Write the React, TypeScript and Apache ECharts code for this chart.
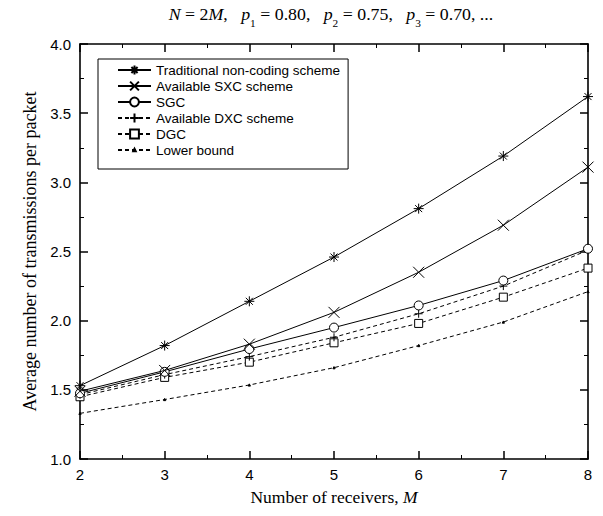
import React, { useEffect, useRef } from "react";
import * as echarts from "echarts";

const receivers = [2, 3, 4, 5, 6, 7, 8];
const traditional = [1.53, 1.82, 2.14, 2.46, 2.81, 3.19, 3.62];
const sxc = [1.49, 1.64, 1.83, 2.06, 2.35, 2.69, 3.11];
const sgc = [1.475, 1.63, 1.795, 1.95, 2.11, 2.29, 2.52];
const dxc = [1.465, 1.61, 1.74, 1.88, 2.05, 2.25, 2.51];
const dgc = [1.45, 1.59, 1.70, 1.84, 1.98, 2.17, 2.38];
const lowerBound = [1.33, 1.43, 1.535, 1.66, 1.82, 1.99, 2.21];

const seriesNames = [
  "Traditional non-coding scheme",
  "Available SXC scheme",
  "SGC",
  "Available DXC scheme",
  "DGC",
  "Lower bound",
];

const STAR = "path://M5,0L5,10M0,5L10,5M1.5,1.5L8.5,8.5M8.5,1.5L1.5,8.5";
const CROSS = "path://M0,0L10,10M10,0L0,10";
const PLUS = "path://M5,0L5,10M0,5L10,5";
const CIRCLE = "path://M0,5A5,5,0,1,1,10,5A5,5,0,1,1,0,5Z";
const SQUARE = "path://M0,0L10,0L10,10L0,10Z";
const TINY = "path://M0,0M10,10M3.6,6.4L5,3.6L6.4,6.4Z";

const SERIF = "'Liberation Serif', 'Times New Roman', serif";
const SANS = "'Liberation Sans', Arial, sans-serif";

function mk(name: string, values: number[], symbol: string, size: number, fill: string, dashed: boolean, z: number) {
  return {
    type: "line",
    name,
    data: receivers.map((x, i) => [x, values[i]]),
    symbol,
    symbolSize: size,
    showAllSymbol: true,
    z,
    lineStyle: { color: "#000", width: 1, type: dashed ? [4, 3] : "solid" },
    itemStyle: { color: fill, borderColor: "#000", borderWidth: 1 },
    emphasis: { disabled: true },
  };
}

export default function App() {
  const ref = useRef<HTMLDivElement>(null);
  useEffect(() => {
    if (!ref.current) return;
    const chart = echarts.init(ref.current, undefined, { renderer: "svg" });
    const tickCommon = {
      axisLine: { show: true, onZero: false, lineStyle: { color: "#000", width: 1.6 } },
      axisTick: { show: true, inside: true, length: 8, lineStyle: { color: "#000", width: 1.5 } },
      minorTick: { show: true, splitNumber: 2, length: 4, lineStyle: { color: "#000", width: 1 } },
      splitLine: { show: false },
      minorSplitLine: { show: false },
    };
    const xBase = { type: "value", min: 2, max: 8, interval: 1, ...tickCommon };
    const yBase = { type: "value", min: 1, max: 4, interval: 0.5, ...tickCommon };
    chart.setOption({
      animation: false,
      backgroundColor: "#fff",
      grid: { left: 80, right: 15, top: 44, bottom: 57, containLabel: false },
      graphic: [
        {
          type: "text",
          x: 331,
          y: 1,
          scaleX: 1.08,
          style: {
            text: "{i|N} = 2{i|M},   {i|p}{s|1} = 0.80,   {i|p}{s|2} = 0.75,   {i|p}{s|3} = 0.70, ...",
            align: "center",
            verticalAlign: "top",
            fontFamily: SERIF,
            fontSize: 16.5,
            lineHeight: 28,
            fill: "#000",
            rich: {
              i: { fontStyle: "italic", fontFamily: SERIF, fontSize: 16.5, lineHeight: 28 },
              s: { fontFamily: SERIF, fontSize: 10.5, lineHeight: 10.5, verticalAlign: "bottom" },
            },
          },
        },
      ],
      legend: {
        orient: "vertical",
        left: 98,
        top: 59,
        padding: [4, 8, 12, 19],
        itemGap: 2,
        itemWidth: 33,
        itemHeight: 11,
        borderColor: "#000",
        borderWidth: 1,
        backgroundColor: "#fff",
        textStyle: { fontSize: 13.5, fontFamily: SANS, color: "#000", lineHeight: 14 },
        data: seriesNames,
      },
      xAxis: [
        {
          ...xBase,
          position: "bottom",
          axisLabel: { color: "#000", fontSize: 15, fontFamily: SANS, margin: 8 },
          name: "Number of receivers, {i|M}",
          nameLocation: "middle",
          nameGap: 29,
          nameTextStyle: {
            color: "#000",
            fontFamily: SERIF,
            fontSize: 17.5,
            rich: { i: { fontStyle: "italic", fontFamily: SERIF, fontSize: 17.5 } },
          },
        },
        { ...xBase, position: "top", axisLabel: { show: false } },
      ],
      yAxis: [
        {
          ...yBase,
          position: "left",
          axisLabel: {
            color: "#000",
            fontSize: 15,
            fontFamily: SANS,
            margin: 9,
            formatter: (v: number) => v.toFixed(1),
          },
          name: "Average number of transmissions per packet",
          nameLocation: "middle",
          nameGap: 41,
          nameTextStyle: { color: "#000", fontFamily: SERIF, fontSize: 18 },
        },
        { ...yBase, position: "right", axisLabel: { show: false } },
      ],
      series: [
        mk(seriesNames[0], traditional, STAR, 10, "none", false, 6),
        mk(seriesNames[1], sxc, CROSS, 11, "none", false, 5),
        mk(seriesNames[2], sgc, CIRCLE, 9, "#fff", false, 4),
        mk(seriesNames[3], dxc, PLUS, 8, "none", true, 3),
        mk(seriesNames[4], dgc, SQUARE, 8, "#fff", true, 2),
        mk(seriesNames[5], lowerBound, TINY, 8, "#000", true, 1),
      ],
    });
    return () => chart.dispose();
  }, []);
  return (
    <div
      ref={ref}
      style={{ position: "fixed", left: 0, top: 0, width: 603, height: 516 }}
    />
  );
}
